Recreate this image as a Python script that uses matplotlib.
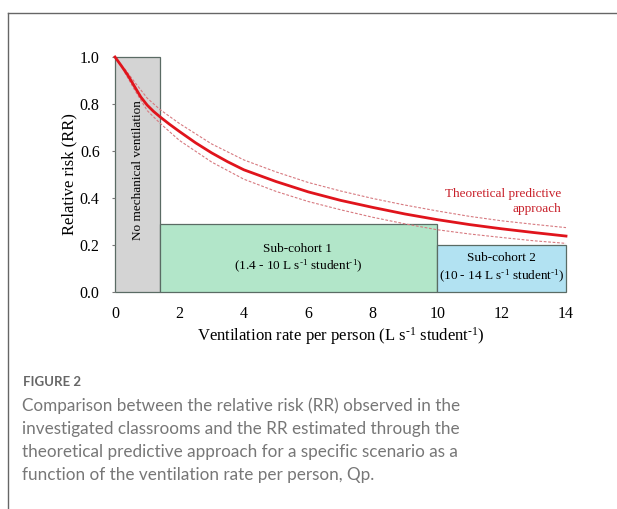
import matplotlib

matplotlib.use("Agg")
import matplotlib.pyplot as plt
from matplotlib.lines import Line2D
from matplotlib.patches import Rectangle

# theoretical RR curve
qp = [0, 0.2, 0.4, 0.6, 0.8, 1.0, 1.2, 1.4, 1.7, 2, 2.5, 3, 3.5, 4, 5, 6, 7,
      8, 9, 10, 11, 12, 13, 14]
rr = [1.0, 0.962, 0.922, 0.876, 0.83, 0.795, 0.768, 0.745, 0.713, 0.683,
      0.635, 0.592, 0.554, 0.52, 0.47, 0.426, 0.39, 0.36, 0.332, 0.308,
      0.287, 0.269, 0.253, 0.238]

# dotted confidence band
band_x = [0.3, 0.6, 1.0, 1.4, 2, 3, 4, 5, 6, 7, 8, 9, 10, 11, 12, 13, 14]
band_hi = [0.95, 0.895, 0.825, 0.776, 0.717, 0.63, 0.562, 0.511, 0.466, 0.43,
           0.398, 0.37, 0.345, 0.322, 0.303, 0.288, 0.274]
band_lo = [0.935, 0.862, 0.772, 0.718, 0.645, 0.553, 0.48, 0.428, 0.385, 0.35,
           0.318, 0.29, 0.265, 0.247, 0.232, 0.218, 0.207]

# observed groups: (x start, x end, RR)
groups = [(0, 1.4, 1.0), (1.4, 10, 0.29), (10, 14, 0.2)]
group_colors = ["#d4d4d4", "#b2e6c9", "#b2e2f2"]
group_labels = ["No mechanical ventilation",
                "Sub-cohort 1\n(1.4 - 10 L s$^{\\text{-1}}$ student$^{\\text{-1}}$)",
                "Sub-cohort 2\n(10 - 14 L s$^{\\text{-1}}$ student$^{\\text{-1}}$)"]

xticks = [0, 2, 4, 6, 8, 10, 12, 14]
yticks = [0.0, 0.2, 0.4, 0.6, 0.8, 1.0]

caption = ("Comparison between the relative risk (RR) observed in the\n"
           "investigated classrooms and the RR estimated through the\n"
           "theoretical predictive approach for a specific scenario as a\n"
           "function of the ventilation rate per person, Qp.")

plt.rcParams["mathtext.fontset"] = "custom"
plt.rcParams["mathtext.rm"] = "Liberation Serif"
plt.rcParams["mathtext.it"] = "Liberation Serif:italic"
serif = "Liberation Serif"

W, H = 617, 509
fig = plt.figure(figsize=(W / 100, H / 100), dpi=100)
ax = fig.add_axes([115 / W, 1 - 292 / H, (566 - 115) / W, (292 - 57) / H])

for (x0, x1, v), c in zip(groups, group_colors):
    ax.add_patch(Rectangle((x0, 0), x1 - x0, v, facecolor=c,
                           edgecolor="#5a6b64", lw=0.9, clip_on=False, zorder=1))

ax.plot(band_x, band_hi, color="#d77a80", lw=0.8, ls=(0, (2.5, 1.5)), zorder=2, clip_on=False)
ax.plot(band_x, band_lo, color="#d77a80", lw=0.8, ls=(0, (2.5, 1.5)), zorder=2, clip_on=False)
ax.plot(qp, rr, color="#e0141c", lw=2.0, zorder=3, clip_on=False)

ax.text(0.7, 0.52, group_labels[0], rotation=90, ha="center", va="center",
        family=serif, fontsize=9.5)
ax.text(5.68, 0.141, group_labels[1], ha="center", va="center",
        family=serif, fontsize=9.5, linespacing=1.25)
ax.text(12.0, 0.1, group_labels[2], ha="center", va="center",
        family=serif, fontsize=9.5, linespacing=1.25)
ax.text(13.85, 0.385, "Theoretical predictive\napproach", ha="right", va="center",
        family=serif, fontsize=9.5, color="#c8202a", linespacing=1.25)

ax.set_xlim(0, 14)
ax.set_ylim(0, 1)
ax.set_xticks(xticks, [str(t) for t in xticks])
ax.set_yticks(yticks, [f"{t:.1f}" for t in yticks])
for s in ax.spines.values():
    s.set_visible(False)
ax.tick_params(axis="x", length=0, pad=10, labelsize=11.5)
ax.tick_params(axis="y", length=2, color="#777777", pad=9, labelsize=11.5)
for lab in ax.get_xticklabels() + ax.get_yticklabels():
    lab.set_family(serif)
ax.set_xlabel("Ventilation rate per person (L s$^{\\text{-1}}$ student$^{\\text{-1}}$)",
              family=serif, fontsize=12, labelpad=2)
ax.set_ylabel("Relative risk (RR)", family=serif, fontsize=12, labelpad=2)

# page frame around figure block
fig.add_artist(Line2D([8 / W, 8 / W], [0, 1 - 13 / H], transform=fig.transFigure,
                      color="#666666", lw=1.0))
fig.add_artist(Line2D([8 / W, 1], [1 - 13 / H, 1 - 13 / H], transform=fig.transFigure,
                      color="#666666", lw=1.0))

fig.text(23 / W, 1 - 382 / H, "FIGURE 2", family="Lato", fontsize=9.5,
         color="#666666", va="center", weight="bold")
fig.text(22 / W, 1 - 397 / H, caption, family="Lato", fontsize=12.3,
         color="#777777", va="top", linespacing=1.55)

fig.savefig("out.png", dpi=100)
